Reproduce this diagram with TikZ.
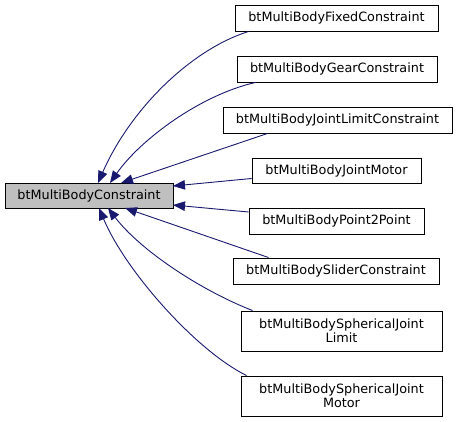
\documentclass[tikz,border=0pt]{standalone}
\usepackage{fontspec}
\setmainfont{DejaVu Sans}
\usetikzlibrary{arrows.meta}
\definecolor{edgeblue}{HTML}{191970}
\definecolor{maingray}{HTML}{BFBFBF}
\begin{document}
\begin{tikzpicture}[x=1pt,y=-1pt,
  box/.style={draw=black,line width=0.9pt,inner sep=0pt,align=center,
    font=\fontsize{12.8}{14}\selectfont,minimum height=26pt},
  tall/.style={minimum height=40pt},
  edge/.style={draw=edgeblue,line width=0.9pt,-{Triangle[length=12pt,width=9.5pt]}}]
\useasboundingbox (0,0) rectangle (457,422);
\node[box,fill=maingray,minimum width=168pt,minimum height=25pt] (m) at (89,195.5) {btMultiBodyConstraint};
\node[box,minimum width=203pt] (c1) at (336.5,18) {btMultiBodyFixedConstraint};
\node[box,minimum width=200pt] (c2) at (337,69) {btMultiBodyGearConstraint};
\node[box,minimum width=229pt] (c3) at (337.5,120) {btMultiBodyJointLimitConstraint};
\node[box,minimum width=169pt,minimum height=25pt] (c4) at (336.5,170.5) {btMultiBodyJointMotor};
\node[box,minimum width=175pt] (c5) at (336.5,221) {btMultiBodyPoint2Point};
\node[box,minimum width=206pt] (c6) at (336,271) {btMultiBodySliderConstraint};
\node[box,tall,minimum width=201pt] (c7) at (341.5,331) {btMultiBodySphericalJoint\\Limit};
\node[box,tall,minimum width=201pt] (c8) at (341.5,396) {btMultiBodySphericalJoint\\Motor};
\coordinate (m1) at (98,183);
\coordinate (m2) at (110,183);
\coordinate (m3) at (121,183);
\coordinate (m4) at (173,186);
\coordinate (m5) at (173,205);
\coordinate (m6) at (125,208);
\coordinate (m7) at (108,208);
\coordinate (m8) at (99,208);
\draw[edge] (c1.south west) ++(14,0) .. controls (190,50) and (130,110) .. (m1);
\draw[edge] (c2.south west) ++(19,0) .. controls (200,95) and (140,140) .. (m2);
\draw[edge] (c3.south west) ++(45,0) -- (m3);
\draw[edge] (c4.west) ++(0,8) -- (m4);
\draw[edge] (c5.west) ++(0,-9) -- (m5);
\draw[edge] (c6.north west) ++(36,0) -- (m6);
\draw[edge] (c7.north west) ++(12,0) .. controls (200,290) and (140,250) .. (m7);
\draw[edge] (c8.north west) ++(6,0) .. controls (195,350) and (125,270) .. (m8);
\end{tikzpicture}
\end{document}
